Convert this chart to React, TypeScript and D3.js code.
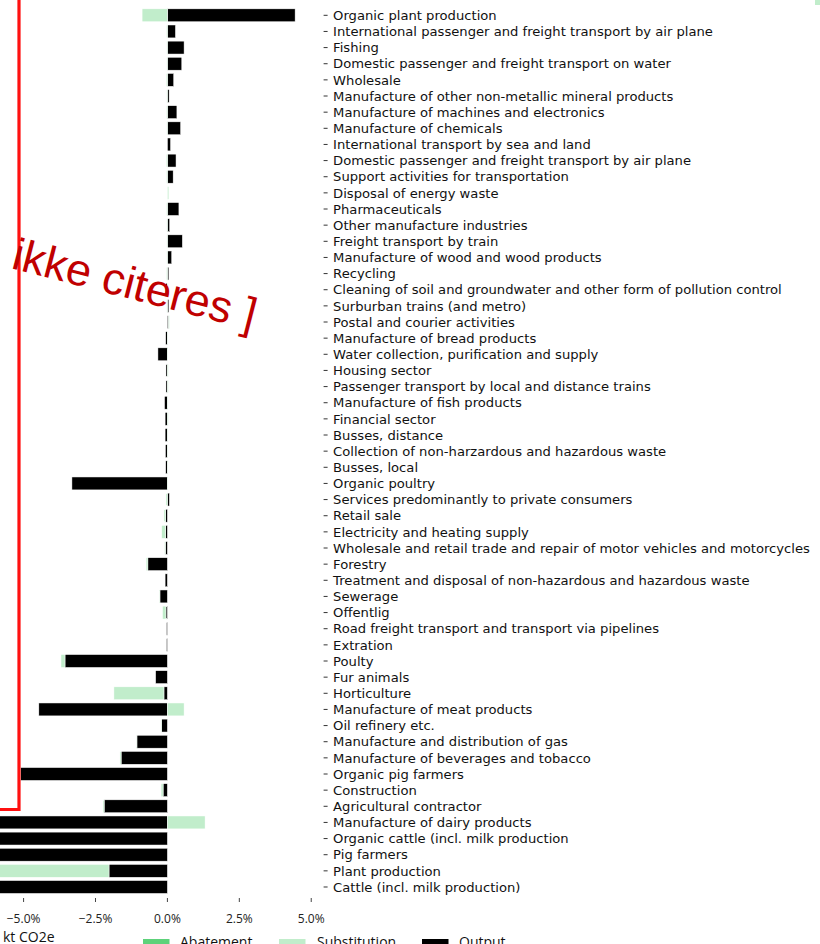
import React from "react";
import * as d3 from "d3";

// Sector names, top to bottom
const categories: string[] = [
  "Organic plant production",
  "International passenger and freight transport by air plane",
  "Fishing",
  "Domestic passenger and freight transport on water",
  "Wholesale",
  "Manufacture of other non-metallic mineral products",
  "Manufacture of machines and electronics",
  "Manufacture of chemicals",
  "International transport by sea and land",
  "Domestic passenger and freight transport by air plane",
  "Support activities for transportation",
  "Disposal of energy waste",
  "Pharmaceuticals",
  "Other manufacture industries",
  "Freight transport by train",
  "Manufacture of wood and wood products",
  "Recycling",
  "Cleaning of soil and groundwater and other form of pollution control",
  "Surburban trains (and metro)",
  "Postal and courier activities",
  "Manufacture of bread products",
  "Water collection, purification and supply",
  "Housing sector",
  "Passenger transport by local and distance trains",
  "Manufacture of fish products",
  "Financial sector",
  "Busses, distance",
  "Collection of non-harzardous and hazardous waste",
  "Busses, local",
  "Organic poultry",
  "Services predominantly to private consumers",
  "Retail sale",
  "Electricity and heating supply",
  "Wholesale and retail trade and repair of motor vehicles and motorcycles",
  "Forestry",
  "Treatment and disposal of non-hazardous and hazardous waste",
  "Sewerage",
  "Offentlig",
  "Road freight transport and transport via pipelines",
  "Extration",
  "Poulty",
  "Fur animals",
  "Horticulture",
  "Manufacture of meat products",
  "Oil refinery etc.",
  "Manufacture and distribution of gas",
  "Manufacture of beverages and tobacco",
  "Organic pig farmers",
  "Construction",
  "Agricultural contractor",
  "Manufacture of dairy products",
  "Organic cattle (incl. milk production",
  "Pig farmers",
  "Plant production",
  "Cattle (incl. milk production)",
];

// Change in emissions, % (kt CO2e), per component
const outputValues: number[] = [
  4.44, 0.28, 0.58, 0.5, 0.22, 0.06, 0.33, 0.46, 0.11, 0.3,
  0.2, 0.0, 0.4, 0.08, 0.52, 0.15, 0.05, -0.06, 0.05, 0.04,
  -0.06, -0.33, -0.05, -0.05, -0.1, -0.08, -0.08, -0.07, -0.06, -3.32,
  0.07, -0.06, -0.06, -0.07, -0.68, -0.08, -0.26, -0.05, -0.03, -0.03,
  -3.56, -0.41, -0.12, -4.47, -0.2, -1.06, -1.61, -5.11, -0.15, -2.2,
  -9.5, -10.2, -12.5, -2.03, -15.0,
];

const substitutionValues: number[] = [
  -0.88, -0.03, -0.02, -0.02, -0.04, -0.02, -0.03, -0.02, 0.0, -0.04,
  -0.03, 0.05, -0.03, -0.02, -0.02, -0.02, -0.03, 0.03, -0.02, 0.03,
  0.02, 0.02, 0.03, 0.03, 0.02, 0.03, 0.02, 0.02, 0.02, 0.02,
  -0.05, -0.06, -0.14, -0.03, -0.06, 0.0, -0.02, -0.12, 0.0, 0.0,
  -0.14, 0.0, -1.74, 0.58, -0.02, -0.02, -0.04, -0.03, -0.07, -0.04,
  1.31, 0.0, 0.0, -6.0, 0.0,
];

const abatementValues: number[] = [
  0, 0, 0, 0, 0, 0, 0, 0, 0, 0,
  0, 0, 0, 0, 0, 0, 0, 0, 0, 0,
  0, 0, 0, 0, 0, 0, 0, 0, 0, 0,
  0, 0, 0, 0, 0, 0, 0, 0, 0, 0,
  0, 0, 0, 0, 0, 0, 0, 0, 0, 0,
  0, 0, 0, 0, 0,
];

const xTickValues: number[] = [-5, -2.5, 0, 2.5, 5];

const seriesKeys = ["Output", "Substitution", "Abatement"];
const colors: Record<string, string> = {
  Abatement: "#5dd27a",
  Substitution: "#c1edcb",
  Output: "#000000",
};

const W = 820;
const H = 944;

export default function App() {
  const rows = categories.map((c, i) => ({
    category: c,
    Output: outputValues[i],
    Substitution: substitutionValues[i],
    Abatement: abatementValues[i],
  }));

  const stacked = d3
    .stack<any>()
    .keys(seriesKeys)
    .offset(d3.stackOffsetDiverging)(rows);

  const x = d3.scaleLinear().domain([-5.82, 5.43]).range([0, 323.6]);
  const y = d3
    .scaleBand<string>()
    .domain(categories)
    .range([7.23, 895.07])
    .paddingInner(0.2)
    .paddingOuter(0.1);

  const axisRight = x.range()[1];
  const fmt = (v: number) => d3.format(".1f")(v) + "%";

  const legendItems = [
    { key: "Abatement", px: 143, tx: 180 },
    { key: "Substitution", px: 279, tx: 317 },
    { key: "Output", px: 422, tx: 459 },
  ];

  return (
    <svg
      width={W}
      height={H}
      style={{ position: "absolute", left: 0, top: 0, background: "#fff" }}
    >
      <rect width={W} height={H} fill="#fff" />

      {/* stacked bars */}
      {stacked.map((s) => (
        <g key={s.key} fill={colors[s.key]}>
          {s.map((d, i) => {
            const x0 = x(Math.min(d[0], d[1]));
            const x1 = x(Math.max(d[0], d[1]));
            if (x1 - x0 <= 0) return null;
            return (
              <rect
                key={i}
                x={x0}
                y={y(categories[i])}
                width={x1 - x0}
                height={y.bandwidth()}
                stroke="#ffffff"
                strokeWidth={0.5}
              />
            );
          })}
        </g>
      ))}

      {/* category axis on the right */}
      <g>
        {categories.map((c) => {
          const cy = (y(c) as number) + y.bandwidth() / 2;
          return (
            <g key={c}>
              <line
                x1={axisRight}
                x2={axisRight + 4}
                y1={cy}
                y2={cy}
                stroke="#333"
                strokeWidth={1}
              />
              <text
                x={axisRight + 9.5}
                y={cy}
                dy="0.36em"
                fontFamily="DejaVu Sans"
                fontSize={13.15}
                fill="#111"
              >
                {c}
              </text>
            </g>
          );
        })}
      </g>

      {/* value axis */}
      <g>
        {xTickValues.map((v) => (
          <g key={v}>
            <line
              x1={x(v)}
              x2={x(v)}
              y1={898}
              y2={902}
              stroke="#444"
              strokeWidth={1}
            />
            <text
              x={x(v)}
              y={922.5}
              textAnchor="middle"
              fontFamily="Open Sans"
              fontSize={12}
              fill="#222"
            >
              {fmt(v)}
            </text>
          </g>
        ))}
        <text x={3} y={942} fontFamily="Open Sans" fontSize={14} fill="#111">
          kt CO2e
        </text>
      </g>

      {/* legend */}
      <g>
        {legendItems.map((l) => (
          <g key={l.key}>
            <rect x={l.px} y={939} width={26.5} height={10} fill={colors[l.key]} />
            <text
              x={l.tx}
              y={947}
              fontFamily="Open Sans"
              fontSize={14}
              fill="#111"
            >
              {l.key}
            </text>
          </g>
        ))}
      </g>

      {/* neighbouring legend swatch */}
      <rect x={815} y={-5} width={10} height={10} fill={colors.Substitution} />

      {/* watermark frame and note */}
      <path
        d="M19,-5 L19,809.5 L-5,809.5"
        fill="none"
        stroke="#ff1010"
        strokeWidth={3.2}
      />
      <text
        transform="translate(10,268) rotate(14.4)"
        fontFamily="Liberation Sans"
        fontSize={45}
        fill="#c00000"
      >
        ikke citeres ]
      </text>
    </svg>
  );
}
